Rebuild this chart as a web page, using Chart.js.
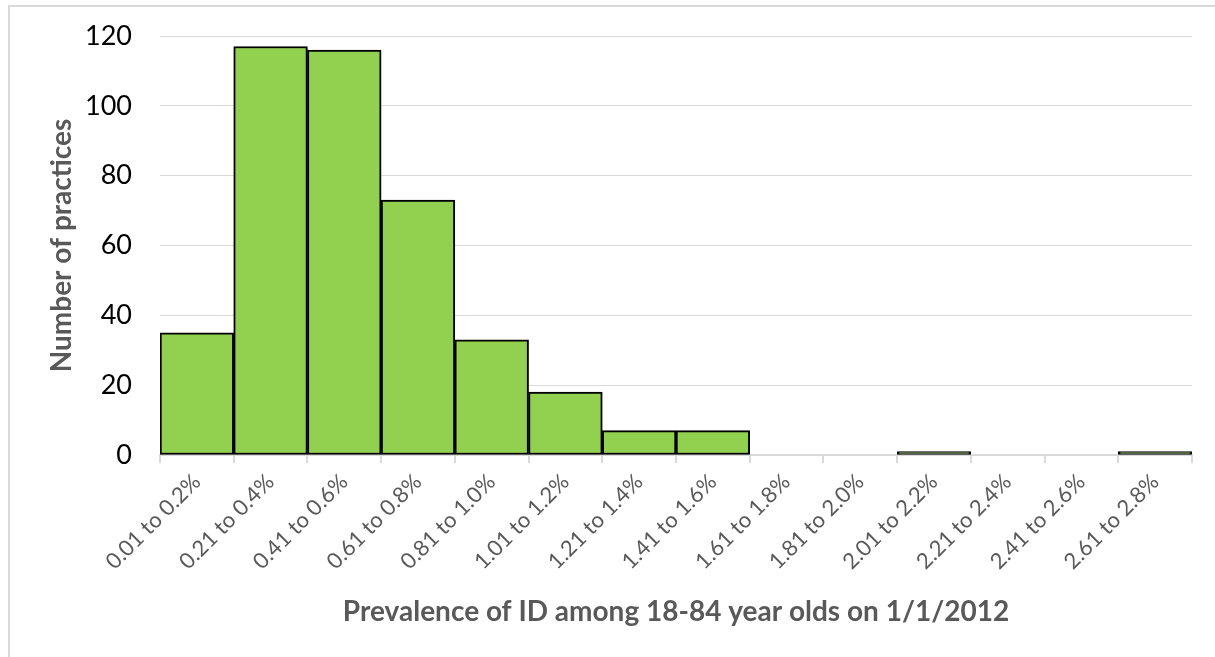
<!DOCTYPE html>
<html>
<head>
<meta charset="utf-8">
<script src="https://cdn.jsdelivr.net/npm/chart.js@4"></script>
<style>
  html, body { margin: 0; padding: 0; background: #fff; }
  #wrap { position: relative; width: 1215px; height: 657px; }
  #frame { position: absolute; left: 8px; top: 5px; width: 1215px; height: 660px;
           border-left: 2px solid #d9d9d9; border-top: 2px solid #d9d9d9; box-sizing: border-box; }
  canvas { position: absolute; left: 0; top: 0; }
</style>
</head>
<body>
<div id="wrap">
  <div id="frame"></div>
  <canvas id="c" width="1215" height="657"></canvas>
</div>
<script>
const categories = ["0.01 to 0.2%", "0.21 to 0.4%", "0.41 to 0.6%", "0.61 to 0.8%", "0.81 to 1.0%",
  "1.01 to 1.2%", "1.21 to 1.4%", "1.41 to 1.6%", "1.61 to 1.8%", "1.81 to 2.0%",
  "2.01 to 2.2%", "2.21 to 2.4%", "2.41 to 2.6%", "2.61 to 2.8%"];
const practices = [35, 117, 116, 73, 33, 18, 7, 7, 0, 0, 1, 0, 0, 1];
const yTicks = [0, 20, 40, 60, 80, 100, 120];
const xTitle = "Prevalence of ID among 18-84 year olds on 1/1/2012";
const yTitle = "Number of practices";

const FONT = "Lato, 'Open Sans', sans-serif";

new Chart(document.getElementById('c'), {
  type: 'bar',
  data: {
    labels: categories,
    datasets: [{
      data: practices,
      backgroundColor: '#92d050',
      borderColor: '#000000',
      borderWidth: 2,
      borderSkipped: false,
      barPercentage: 1,
      categoryPercentage: 1
    }]
  },
  options: {
    responsive: false,
    animation: false,
    devicePixelRatio: 1,
    layout: { padding: { top: 36, right: 23, left: 0, bottom: 0 } },
    plugins: { legend: { display: false }, tooltip: { enabled: false } },
    scales: {
      x: {
        offset: true,
        grid: { offset: true, drawOnChartArea: false, drawTicks: true, tickLength: 8, color: '#d9d9d9', lineWidth: 2 },
        border: { color: '#d9d9d9', width: 2 },
        ticks: { minRotation: 45, maxRotation: 45, autoSkip: false, color: '#595959', padding: 6,
                 font: { family: FONT, size: 22 } },
        title: { display: true, text: xTitle, color: '#595959',
                 font: { family: FONT, size: 28, weight: 'bold' }, padding: { top: 0, bottom: 28 } },
        afterFit(scale) { scale.height = 202; scale.paddingLeft = 0; scale.paddingRight = 0; }
      },
      y: {
        min: 0, max: 120,
        afterBuildTicks(scale) { scale.ticks = yTicks.map(v => ({ value: v })); },
        grid: { color: '#d9d9d9', lineWidth: 1, drawTicks: false },
        border: { display: false },
        ticks: { color: '#000000', padding: 28, font: { family: FONT, size: 27 } },
        title: { display: true, text: yTitle, color: '#595959',
                 font: { family: FONT, size: 28, weight: 'bold' }, padding: { top: 45, bottom: 0 } },
        afterFit(scale) { scale.width = 160; scale.paddingTop = 0; scale.paddingBottom = 0; }
      }
    }
  }
});
</script>
</body>
</html>
